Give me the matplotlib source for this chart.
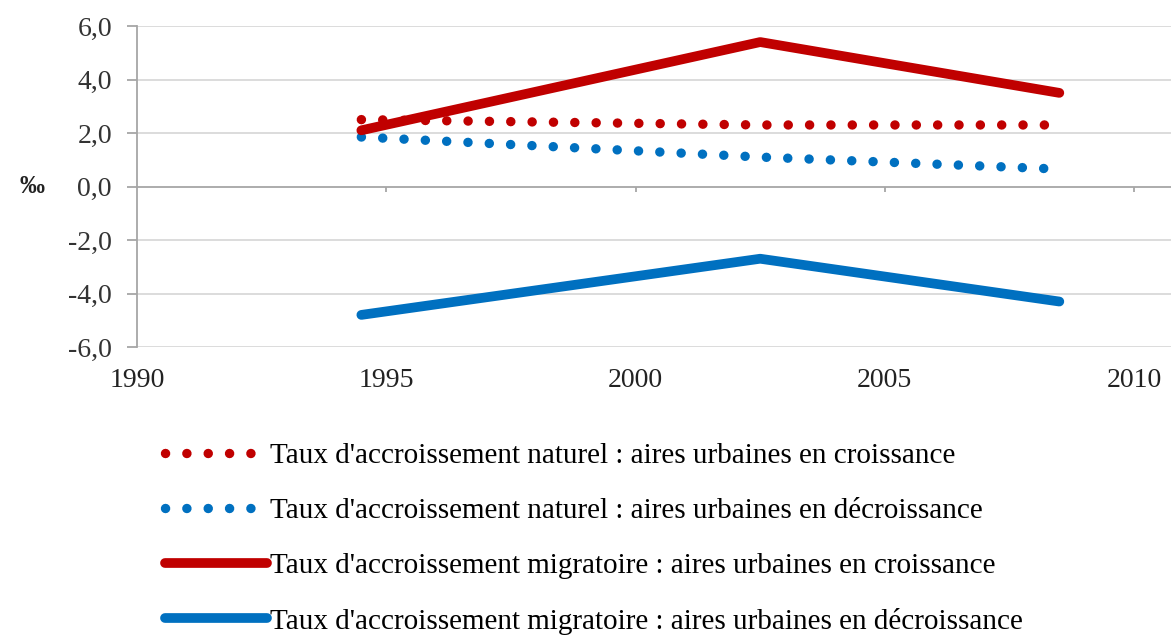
import matplotlib
matplotlib.use("Agg")
import matplotlib.pyplot as plt
from matplotlib import rcParams

rcParams["font.family"] = ["Liberation Serif", "DejaVu Serif"]

# --- data ------------------------------------------------------------------
years = [1994.5, 2002.5, 2008.5]
nat_croiss = [2.5, 2.3, 2.3]
nat_decroiss = [1.85, 1.1, 0.65]
mig_croiss = [2.1, 5.4, 3.5]
mig_decroiss = [-4.8, -2.7, -4.3]

labels = [
    "Taux d'accroissement naturel : aires urbaines en croissance",
    "Taux d'accroissement naturel : aires urbaines en décroissance",
    "Taux d'accroissement migratoire : aires urbaines en croissance",
    "Taux d'accroissement migratoire : aires urbaines en décroissance",
]
xticks = [1990, 1995, 2000, 2005, 2010]
yticks = [-6, -4, -2, 0, 2, 4, 6]

red = "#C00000"
blue = "#0070C0"
grid_c = "#D9D9D9"
axis_c = "#A6A6A6"

# --- figure ---------------------------------------------------------------
fig = plt.figure(figsize=(11.71, 6.35), dpi=100)
ax = fig.add_axes([137 / 1171, 1 - 347 / 635, 1 - 137 / 1171, (347 - 26) / 635])

dot = dict(lw=6.8, linestyle=(0, (0.01, 2.25)), dash_capstyle="round")
solid = dict(lw=7, solid_capstyle="round", solid_joinstyle="round")

l1, = ax.plot(years, nat_croiss, color=red, **dot)
l2, = ax.plot(years, nat_decroiss, color=blue, **dot)
l3, = ax.plot(years, mig_croiss, color=red, **solid)
l4, = ax.plot(years, mig_decroiss, color=blue, **solid)

ax.set_xlim(1990, 2010.74)
ax.set_ylim(-6, 6)

# grid lines
for y in yticks:
    if y != 0:
        ax.axhline(y, color=grid_c, lw=1.3, zorder=0)
ax.axhline(0, color=axis_c, lw=1.3, zorder=0.5)
# category axis tick marks sit on the zero line
ax.vlines(xticks[1:], -0.2, 0, color=axis_c, lw=1.3, zorder=0.5)

ax.set_xticks(xticks)
ax.set_xticklabels([str(x) for x in xticks])
ax.set_yticks(yticks)
ax.set_yticklabels([f"{y:.1f}".replace(".", ",") for y in yticks])
ax.tick_params(axis="x", length=0, labelsize=20, pad=15, colors="#222222")
ax.tick_params(axis="y", length=7, width=1.3, color=axis_c, labelsize=20,
               pad=11, labelcolor="#333333")

for s in ["top", "right", "bottom"]:
    ax.spines[s].set_visible(False)
ax.spines["left"].set_color(axis_c)
ax.spines["left"].set_linewidth(1.3)

ax.text(-0.102, 0, "‰", transform=ax.get_yaxis_transform(), fontsize=18,
        fontweight="bold", ha="center", va="center", color="#222222")

fig.legend([l1, l2, l3, l4], labels, loc="upper left",
           bbox_to_anchor=(153 / 1171, 1 - 431 / 635), frameon=False,
           fontsize=21, handlelength=3.5, handletextpad=0.12,
           labelspacing=0.98, borderaxespad=0)

fig.savefig("out.png", dpi=100)
